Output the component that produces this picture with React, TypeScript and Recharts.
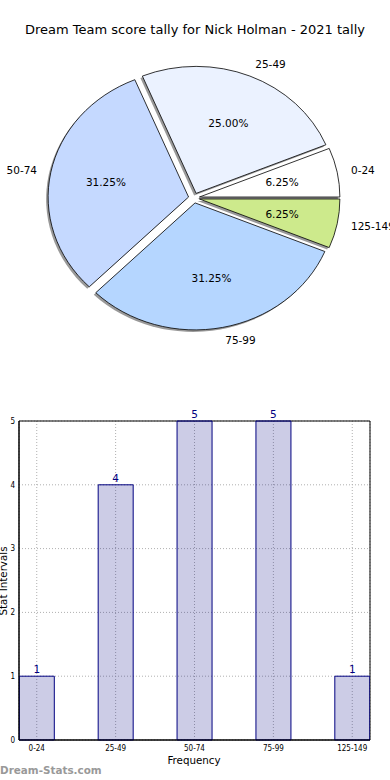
import React from 'react';
import { PieChart, Pie, BarChart, Bar, XAxis, YAxis, CartesianGrid, LabelList, ReferenceArea } from 'recharts';

const categories = ['0-24', '25-49', '50-74', '75-99', '125-149'];
const counts = [1, 4, 5, 5, 1];
const sliceColors = ['#ffffff', '#ebf2ff', '#c5d9ff', '#b5d6ff', '#cdea8c'];
const yTicks = [0, 1, 2, 3, 4, 5];

const total = counts.reduce((a, b) => a + b, 0);
const pieData = categories.map((c, i) => ({ name: c, value: counts[i], fill: sliceColors[i] }));
const barData = categories.map((c, i) => ({ idx: i, label: c, count: counts[i] }));

const EXPLODE = 5;
const SX = 1.106;
const RAD = Math.PI / 180;

function sectorPath(cx: number, cy: number, r: number, s: number, e: number, ox: number, oy: number) {
  const lo = Math.min(s, e);
  const hi = Math.max(s, e);
  const mid = ((lo + hi) / 2) * RAD;
  const ax = cx + EXPLODE * SX * Math.cos(mid) + ox;
  const ay = cy - EXPLODE * Math.sin(mid) + oy;
  const rx = r * SX;
  const ry = r;
  const x1 = ax + rx * Math.cos(lo * RAD);
  const y1 = ay - ry * Math.sin(lo * RAD);
  const x2 = ax + rx * Math.cos(hi * RAD);
  const y2 = ay - ry * Math.sin(hi * RAD);
  const large = hi - lo > 180 ? 1 : 0;
  return `M ${ax} ${ay} L ${x1} ${y1} A ${rx} ${ry} 0 ${large} 0 ${x2} ${y2} Z`;
}

const SliceShape = (props: any) => {
  const { cx, cy, outerRadius, startAngle, endAngle, payload, index } = props;
  const fill = (payload && payload.fill) || sliceColors[index] || '#fff';
  return (
    <path d={sectorPath(cx, cy, outerRadius, startAngle, endAngle, 0, 0)} fill={fill} stroke="#000" strokeWidth={0.8} strokeLinejoin="round" />
  );
};

const ShadowShape = (props: any) => {
  const { cx, cy, outerRadius, startAngle, endAngle } = props;
  return <path d={sectorPath(cx, cy, outerRadius, startAngle, endAngle, -2, 2)} fill="#000" fillOpacity={0.4} stroke="none" />;
};

const renderPieLabel = (props: any) => {
  const { cx, cy, outerRadius, startAngle, endAngle, index, name, value } = props;
  const mid = ((startAngle + endAngle) / 2) * RAD;
  const c = Math.cos(mid);
  const s = Math.sin(mid);
  const lr = EXPLODE + 1.1 * outerRadius;
  const pr = EXPLODE + 0.6 * outerRadius;
  const pct = ((value / total) * 100).toFixed(2) + '%';
  return (
    <g key={`lbl-${index}`}>
      <text x={cx + SX * lr * c} y={cy - lr * s} textAnchor={c > 0 ? 'start' : 'end'} dominantBaseline="central" fontSize={10.5} fill="#000" fontFamily="DejaVu Sans">
        {name}
      </text>
      <text x={cx + SX * pr * c} y={cy - pr * s} textAnchor="middle" dominantBaseline="central" fontSize={10.5} fill="#000" fontFamily="DejaVu Sans">
        {pct}
      </text>
    </g>
  );
};

export default function App() {
  return (
    <div style={{ position: 'absolute', left: 0, top: 0, width: 390, height: 780, background: '#fff', fontFamily: 'DejaVu Sans', overflow: 'hidden' }}>
      <div style={{ position: 'absolute', left: 0, top: 22, width: 390, textAlign: 'center', fontSize: 13, lineHeight: '16px', color: '#000' }}>
        Dream Team score tally for Nick Holman - 2021 tally
      </div>
      <div style={{ position: 'absolute', left: 0, top: 0 }}>
        <PieChart width={390} height={400} margin={{ top: 0, right: 0, bottom: 0, left: 0 }}>
          <Pie data={pieData} dataKey="value" nameKey="name" cx={194} cy={198} outerRadius={127} startAngle={0} endAngle={360} shape={ShadowShape} isAnimationActive={false} stroke="none" labelLine={false} label={false} />
          <Pie data={pieData} dataKey="value" nameKey="name" cx={194} cy={198} outerRadius={127} startAngle={0} endAngle={360} shape={SliceShape} isAnimationActive={false} labelLine={false} label={renderPieLabel} />
        </PieChart>
      </div>
      <div style={{ position: 'absolute', left: 0, top: 400 }}>
        <BarChart width={390} height={380} data={barData} margin={{ top: 21, right: 20, left: 0, bottom: 0 }}>
          <CartesianGrid stroke="#b0b0b0" strokeDasharray="1 2" />
          <XAxis dataKey="idx" type="number" domain={[-0.225, 4.225]} ticks={[0, 1, 2, 3, 4]} interval={0} allowDataOverflow tickFormatter={(v: number) => categories[v]} height={40} tickSize={0} tickMargin={5} tick={{ fontSize: 8, fill: '#000', fontFamily: 'DejaVu Sans Condensed, DejaVu Sans' }} axisLine={{ stroke: '#000' }} />
          <YAxis type="number" domain={[0, 5]} ticks={yTicks} interval={0} width={19} tickSize={0} tickMargin={4} tick={{ fontSize: 8, fill: '#000', fontFamily: 'DejaVu Sans Condensed, DejaVu Sans' }} axisLine={{ stroke: '#000' }} />
          <Bar dataKey="count" barSize={35} fill="#000080" fillOpacity={0.2} stroke="#000080" strokeWidth={1} isAnimationActive={false}>
            <LabelList dataKey="count" position="top" offset={3} fill="#000080" fontSize={10.5} fontFamily="DejaVu Sans" />
          </Bar>
          <ReferenceArea x1={-0.225} x2={4.225} y1={0} y2={5} fill="none" stroke="#000" strokeWidth={1} ifOverflow="visible" />
        </BarChart>
      </div>
      <div style={{ position: 'absolute', left: 194, top: 760, transform: 'translate(-50%, -50%)', fontSize: 10.3, whiteSpace: 'nowrap', color: '#000' }}>
        Frequency
      </div>
      <div style={{ position: 'absolute', left: 3, top: 581, transform: 'translate(-50%, -50%) rotate(-90deg)', fontSize: 10.3, whiteSpace: 'nowrap', color: '#000' }}>
        Stat Intervals
      </div>
      <div style={{ position: 'absolute', left: 0, top: 770, transform: 'translateY(-50%)', fontSize: 10.4, fontWeight: 'bold', whiteSpace: 'nowrap', color: '#999' }}>
        Dream-Stats.com
      </div>
    </div>
  );
}
